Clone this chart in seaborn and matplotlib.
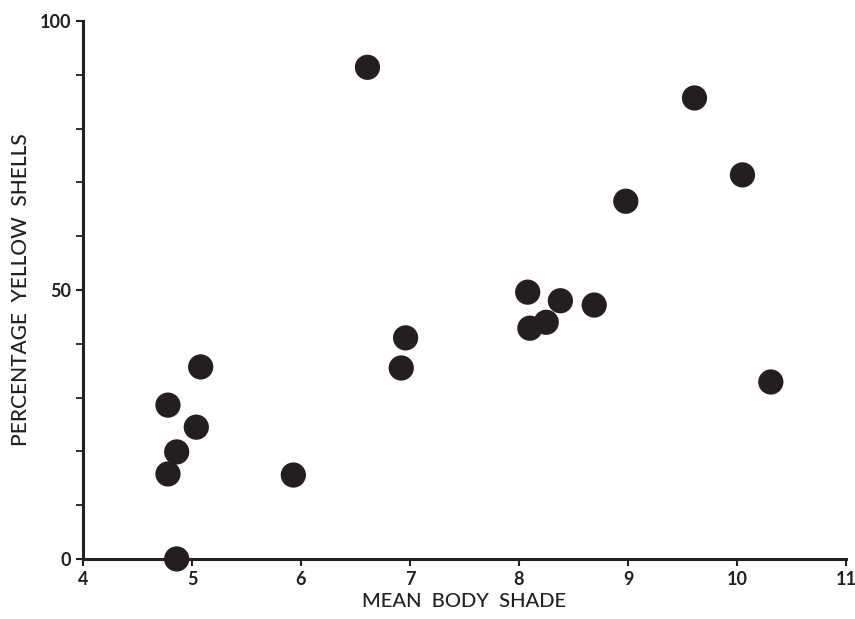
import matplotlib
matplotlib.use("Agg")
import matplotlib.pyplot as plt
import seaborn as sns
import pandas as pd
from matplotlib.ticker import MultipleLocator

body_shade = [6.61, 9.61, 10.05, 8.98, 8.08, 8.38, 8.69, 8.25, 8.10, 10.31,
              6.96, 6.92, 5.08, 4.78, 5.04, 4.86, 4.78, 5.93, 4.86]
pct_yellow = [91.4, 85.7, 71.4, 66.5, 49.6, 48.0, 47.2, 44.0, 42.9, 32.9,
              41.1, 35.5, 35.7, 28.6, 24.5, 19.9, 15.8, 15.6, 0.0]
x_ticks = [4, 5, 6, 7, 8, 9, 10, 11]
y_ticks = [0, 50, 100]

sns.set_style("ticks")
plt.rcParams['font.family'] = ['Lato', 'DejaVu Sans']

df = pd.DataFrame({"x": body_shade, "y": pct_yellow})

fig = plt.figure(figsize=(8.55, 6.19), dpi=100)
ax = fig.add_axes([0.097, 0.097, 0.8925, 0.869])
sns.scatterplot(data=df, x="x", y="y", ax=ax, s=330, color="#231f20",
                edgecolor="none", clip_on=False, zorder=3)

ax.set_xlim(4, 11)
ax.set_ylim(0, 100)
ax.set_xticks(x_ticks)
ax.set_yticks(y_ticks)
ax.yaxis.set_minor_locator(MultipleLocator(10))
ax.tick_params(axis='both', which='major', length=5, width=1.5, labelsize=13,
               colors="#231f20")
ax.tick_params(axis='y', which='minor', length=5, width=1.3, colors="#231f20")
for lab in ax.get_xticklabels() + ax.get_yticklabels():
    lab.set_fontweight('bold')
for side in ["top", "right"]:
    ax.spines[side].set_visible(False)
for side in ["left", "bottom"]:
    ax.spines[side].set_linewidth(2.2)
    ax.spines[side].set_color("#231f20")

ax.set_xlabel("MEAN  BODY  SHADE", fontsize=14.5, color="#231f20", labelpad=4,
              fontweight='medium')
ax.set_ylabel("PERCENTAGE  YELLOW  SHELLS", fontsize=15, color="#231f20", labelpad=6,
              fontweight='medium')

fig.savefig("out.png", dpi=100, facecolor="white")
